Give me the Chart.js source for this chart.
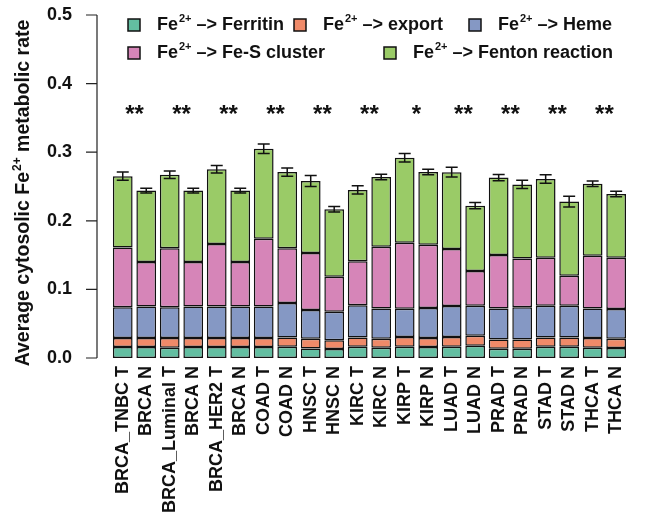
<!DOCTYPE html>
<html>
<head>
<meta charset="utf-8">
<script src="https://cdn.jsdelivr.net/npm/chart.js@4.4.1/dist/chart.umd.min.js"></script>
<style>
  html, body { margin: 0; padding: 0; background: #fff; }
  #wrap { width: 646px; height: 529px; }
</style>
</head>
<body>
<div id="wrap"><canvas id="chart" width="646" height="529"></canvas></div>
<script>
const samples = [
  "BRCA_TNBC T", "BRCA N", "BRCA_Luminal T", "BRCA N", "BRCA_HER2 T", "BRCA N",
  "COAD T", "COAD N", "HNSC T", "HNSC N", "KIRC T", "KIRC N", "KIRP T", "KIRP N",
  "LUAD T", "LUAD N", "PRAD T", "PRAD N", "STAD T", "STAD N", "THCA T", "THCA N"
];

const seriesNames = ["Ferritin", "export", "Heme", "Fe-S cluster", "Fenton reaction"];
const seriesColors = ["#63bea1", "#ef8a69", "#8598c4", "#d685b8", "#9acb67"];

const ferritin = [0.016, 0.016, 0.015, 0.016, 0.016, 0.016, 0.016, 0.0165, 0.014, 0.013, 0.0165,
  0.015, 0.0165, 0.016, 0.0165, 0.018, 0.0136, 0.0136, 0.0165, 0.0165, 0.015, 0.0146];
const exportRate = [0.013, 0.013, 0.014, 0.013, 0.013, 0.013, 0.013, 0.0135, 0.014, 0.013, 0.0135,
  0.013, 0.014, 0.013, 0.014, 0.0146, 0.0134, 0.0134, 0.0135, 0.0135, 0.014, 0.0134];
const heme = [0.045, 0.046, 0.045, 0.046, 0.046, 0.046, 0.046, 0.050, 0.042, 0.0415, 0.047,
  0.044, 0.0414, 0.044, 0.0454, 0.0434, 0.045, 0.047, 0.046, 0.046, 0.043, 0.0434];
const feSCluster = [0.087, 0.065, 0.086, 0.065, 0.091, 0.065, 0.099, 0.080, 0.083, 0.051, 0.064,
  0.090, 0.096, 0.092, 0.083, 0.051, 0.078, 0.071, 0.070, 0.044, 0.077, 0.0746];
const fenton = [0.104, 0.104, 0.107, 0.104, 0.109, 0.104, 0.131, 0.111, 0.105, 0.0985, 0.104,
  0.102, 0.124, 0.106, 0.112, 0.095, 0.113, 0.108, 0.115, 0.108, 0.105, 0.093];
const errors = [0.006, 0.0035, 0.0055, 0.0035, 0.0055, 0.0035, 0.007, 0.006, 0.008, 0.004, 0.006,
  0.004, 0.0063, 0.004, 0.007, 0.0046, 0.0046, 0.006, 0.0063, 0.0078, 0.004, 0.004];

// significance marks, one per T/N pair
const stars = ["**", "**", "**", "**", "**", "**", "*", "**", "**", "**", "**"];
const starLevel = 0.36;
const yTicks = [0, 0.1, 0.2, 0.3, 0.4, 0.5];

const FONT = "'Liberation Sans', Arial, sans-serif";

document.addEventListener("DOMContentLoaded", () => {
  const values = [ferritin, exportRate, heme, feSCluster, fenton];

  const datasets = values.map((data, i) => ({
    label: "Fe²⁺ –> " + seriesNames[i],
    data,
    backgroundColor: seriesColors[i],
    borderColor: "#111",
    borderWidth: 1.5,
    borderSkipped: false,
    categoryPercentage: 1,
    barPercentage: 0.84,
  }));

  // writes "Fe" + superscript "2+" + rest, returns the end x
  function drawFeText(ctx, x, y, rest, size) {
    ctx.font = `bold ${size}px ${FONT}`;
    ctx.fillText(rest[0], x, y);
    x += ctx.measureText(rest[0]).width + 1;
    ctx.font = `bold ${Math.round(size * 0.6)}px ${FONT}`;
    ctx.fillText("2+", x, y - size * 0.33);
    x += ctx.measureText("2+").width;
    ctx.font = `bold ${size}px ${FONT}`;
    ctx.fillText(rest[1], x, y);
    return x + ctx.measureText(rest[1]).width;
  }

  function feTextWidth(ctx, rest, size) {
    ctx.font = `bold ${size}px ${FONT}`;
    let w = ctx.measureText(rest[0]).width + ctx.measureText(rest[1]).width + 1;
    ctx.font = `bold ${Math.round(size * 0.6)}px ${FONT}`;
    return w + ctx.measureText("2+").width;
  }

  // y axis line, ticks and title, R style
  const axisPlugin = {
    id: "axisLine",
    afterDraw(chart) {
      const { ctx } = chart;
      const y = chart.scales.y;
      const x0 = 97;
      ctx.save();
      ctx.strokeStyle = "#222";
      ctx.lineWidth = 1.2;
      ctx.beginPath();
      ctx.moveTo(x0, y.getPixelForValue(0));
      ctx.lineTo(x0, y.getPixelForValue(0.5));
      yTicks.forEach(v => {
        const py = y.getPixelForValue(v);
        ctx.moveTo(x0 - 11, py);
        ctx.lineTo(x0, py);
      });
      ctx.stroke();

      const parts = ["Average cytosolic Fe", " metabolic rate"];
      const w = feTextWidth(ctx, parts, 19.5);
      ctx.translate(24, 193);
      ctx.rotate(-Math.PI / 2);
      ctx.fillStyle = "#111";
      ctx.textAlign = "left";
      ctx.textBaseline = "middle";
      drawFeText(ctx, -w / 2, 0, parts, 19.5);
      ctx.restore();
    }
  };

  const errorPlugin = {
    id: "errorBars",
    afterDatasetsDraw(chart) {
      const { ctx } = chart;
      const x = chart.scales.x;
      const y = chart.scales.y;
      ctx.save();
      ctx.strokeStyle = "#111";
      ctx.lineWidth = 1.5;
      samples.forEach((_, i) => {
        const total = values.reduce((s, arr) => s + arr[i], 0);
        const px = x.getPixelForValue(i);
        const top = y.getPixelForValue(total + errors[i]);
        const bot = y.getPixelForValue(total - errors[i]);
        ctx.beginPath();
        ctx.moveTo(px, top);
        ctx.lineTo(px, bot);
        ctx.moveTo(px - 6, top);
        ctx.lineTo(px + 6, top);
        ctx.moveTo(px - 6, bot);
        ctx.lineTo(px + 6, bot);
        ctx.stroke();
      });

      ctx.fillStyle = "#111";
      ctx.font = "bold 24px " + FONT;
      ctx.textAlign = "center";
      ctx.textBaseline = "middle";
      stars.forEach((s, k) => {
        const px = (x.getPixelForValue(2 * k) + x.getPixelForValue(2 * k + 1)) / 2;
        ctx.fillText(s, px, y.getPixelForValue(starLevel) + 4);
      });
      ctx.restore();
    }
  };

  const legendSpots = [[128, 25], [294, 25], [469, 25], [128, 53], [384, 53]];

  const legendPlugin = {
    id: "boxLegend",
    afterDraw(chart) {
      const { ctx } = chart;
      ctx.save();
      chart.data.datasets.forEach((ds, i) => {
        const [bx, by] = legendSpots[i];
        ctx.fillStyle = ds.backgroundColor;
        ctx.strokeStyle = "#111";
        ctx.lineWidth = 1.5;
        ctx.fillRect(bx, by - 6, 12, 12);
        ctx.strokeRect(bx, by - 6, 12, 12);

        ctx.fillStyle = "#111";
        ctx.textBaseline = "middle";
        ctx.textAlign = "left";
        drawFeText(ctx, bx + 29, by, ["Fe", " –> " + seriesNames[i]], 18);
      });
      ctx.restore();
    }
  };

  new Chart(document.getElementById("chart"), {
    type: "bar",
    data: { labels: samples, datasets },
    options: {
      responsive: false,
      animation: false,
      layout: { padding: { top: 15, right: 11, left: 0, bottom: 0 } },
      plugins: {
        legend: { display: false },
        tooltip: { enabled: false },
      },
      scales: {
        x: {
          stacked: true,
          grid: { display: false, drawTicks: false },
          border: { display: false },
          ticks: {
            color: "#111",
            font: { family: FONT, size: 18, weight: "bold" },
            minRotation: 90,
            maxRotation: 90,
            autoSkip: false,
            padding: 8,
          },
          afterFit(scale) { scale.height = 171; },
        },
        y: {
          stacked: true,
          min: 0,
          max: 0.5,
          grid: { display: false, drawTicks: false },
          border: { display: false },
          ticks: {
            stepSize: 0.1,
            color: "#111",
            font: { family: FONT, size: 18, weight: "bold" },
            padding: 39,
            callback: v => v.toFixed(1),
          },
          afterFit(scale) {
            // the wide tick padding would otherwise push the plot down
            scale.width = 111;
            scale.paddingTop = 0;
            scale.paddingBottom = 0;
          },
        },
      },
    },
    plugins: [axisPlugin, errorPlugin, legendPlugin],
  });
});
</script>
</body>
</html>
